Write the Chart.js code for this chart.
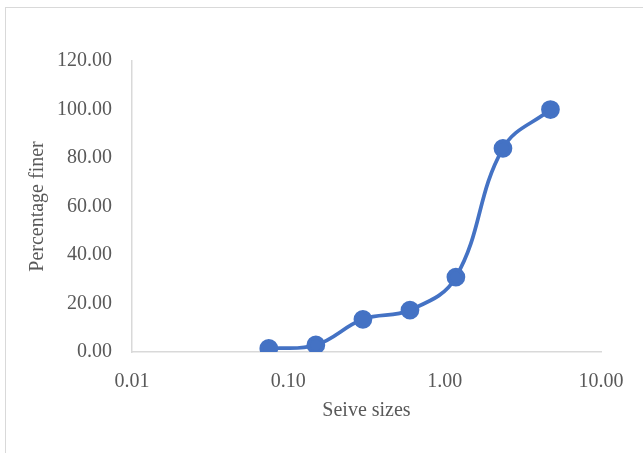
<!DOCTYPE html>
<html>
<head>
<meta charset="utf-8">
<script src="https://cdn.jsdelivr.net/npm/chart.js@4"></script>
<style>
  body { margin: 0; background: #fff; }
  #wrap { position: relative; width: 643px; height: 453px; }
  #frame {
    position: absolute; left: 5px; top: 7px; right: 0; bottom: 0;
    border-left: 1.5px solid #d9d9d9; border-top: 1.5px solid #d9d9d9;
  }
  #chart { position: absolute; left: 0; top: 0; }
</style>
</head>
<body>
<div id="wrap">
  <div id="frame"></div>
  <canvas id="chart" width="643" height="453"></canvas>
</div>
<script>
// sieve sizes (mm) and percentage finer
const sieveSizes = [0.075, 0.15, 0.3, 0.6, 1.18, 2.36, 4.75];
const percentFiner = [1.5, 2.9, 13.5, 17.3, 30.9, 84.0, 100.0];
const xTicks = [0.01, 0.1, 1, 10];

const serif = "'Liberation Serif', 'Times New Roman', serif";
const grey = "#595959";

new Chart(document.getElementById("chart"), {
  type: "line",
  data: {
    datasets: [
      {
        data: sieveSizes.map((s, i) => ({ x: s, y: percentFiner[i] })),
        borderColor: "#4472C4",
        backgroundColor: "#4472C4",
        borderWidth: 3.75,
        pointRadius: 7.5,
        pointHoverRadius: 7.5,
        tension: 0.4,
      },
    ],
  },
  options: {
    responsive: false,
    animation: false,
    layout: { padding: { left: 0, top: 61, right: 42, bottom: 0 } },
    plugins: { legend: { display: false }, tooltip: { enabled: false } },
    scales: {
      x: {
        type: "logarithmic",
        min: 0.01,
        max: 10,
        afterBuildTicks: (axis) => {
          axis.ticks = xTicks.map((v) => ({ value: v }));
        },
        afterFit: (axis) => {
          axis.height = 101;
        },
        grid: { display: false, drawTicks: false },
        border: { display: true, color: "#d9d9d9", width: 1.5 },
        ticks: {
          color: grey,
          font: { family: serif, size: 20 },
          padding: 18,
          autoSkip: false,
          maxRotation: 0,
          callback: (v) => Number(v).toFixed(2),
        },
        title: {
          display: true,
          text: "Seive sizes",
          color: grey,
          font: { family: serif, size: 20 },
          padding: { top: 4, bottom: 30 },
        },
      },
      y: {
        min: 0,
        max: 120,
        afterFit: (axis) => {
          axis.width = 132;
        },
        grid: { display: false, drawTicks: false },
        border: { display: true, color: "#d9d9d9", width: 1.5 },
        ticks: {
          stepSize: 20,
          color: grey,
          font: { family: serif, size: 20 },
          padding: 20,
          callback: (v) => v.toFixed(2),
        },
        title: {
          display: true,
          text: "Percentage finer",
          color: grey,
          font: { family: serif, size: 20 },
          padding: { top: 26, bottom: 4 },
        },
      },
    },
  },
});
</script>
</body>
</html>
